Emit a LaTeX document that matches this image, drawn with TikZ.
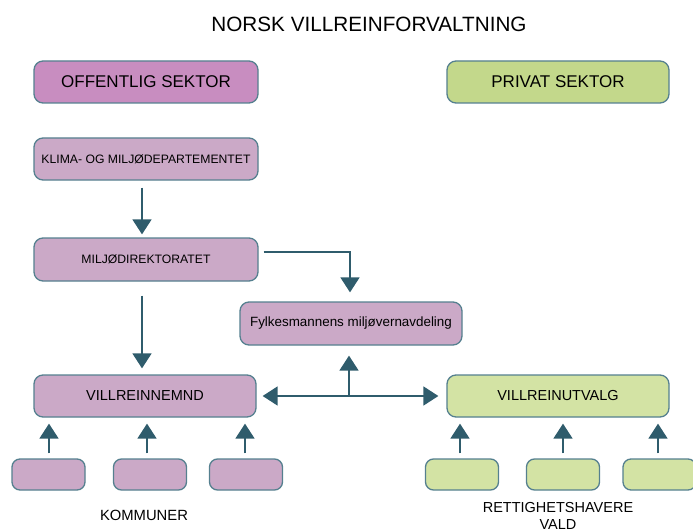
\documentclass[tikz,border=0pt]{standalone}
\usepackage{fontspec}
\setmainfont{Liberation Sans}
\usetikzlibrary{arrows.meta}
\definecolor{edgecol}{HTML}{55808F}
\definecolor{arrcol}{HTML}{2F5C6C}
\definecolor{pinkfill}{HTML}{C88DC0}
\definecolor{lilac}{HTML}{CBA9C7}
\definecolor{greenfill}{HTML}{C3D88B}
\definecolor{palegreen}{HTML}{D3E3A4}
\tikzset{
  box/.style={draw=edgecol, line width=1.3pt, rounded corners=9pt, minimum width=222pt, minimum height=42pt, inner sep=0pt, align=center},
  smallbox/.style={draw=edgecol, line width=1.3pt, rounded corners=8pt, minimum width=73pt, minimum height=31pt, inner sep=0pt},
  arr/.style={draw=arrcol, line width=1.8pt, -{Triangle[length=15pt,width=19pt]}},
  darr/.style={draw=arrcol, line width=1.8pt, {Triangle[length=15pt,width=19pt]}-{Triangle[length=15pt,width=19pt]}},
  lbl/.style={inner sep=0pt, align=center}
}
\begin{document}
\begin{tikzpicture}[x=1pt,y=-1pt]
\useasboundingbox (0,0) rectangle (693,532);
\node[lbl, font=\fontsize{20.7}{24}\selectfont] (title) at (369,24) {NORSK VILLREINFORVALTNING};
\node[box, fill=pinkfill, minimum width=224pt, font=\fontsize{17}{20}\selectfont] (off) at (146,82) {OFFENTLIG SEKTOR};
\node[box, fill=greenfill, font=\fontsize{17}{20}\selectfont] (priv) at (558,82) {PRIVAT SEKTOR};
\node[box, fill=lilac, minimum width=224pt, font=\fontsize{12.2}{14}\selectfont] (klima) at (146,159) {KLIMA- OG MILJØDEPARTEMENTET};
\node[box, fill=lilac, minimum width=224pt, minimum height=43pt, font=\fontsize{12.2}{14}\selectfont] (mdir) at (146,259.5) {MILJØDIREKTORATET};
\node[box, fill=lilac, minimum height=43pt, font=\fontsize{13.4}{16}\selectfont] (fylke) at (351,323.5) {Fylkesmannens miljøvernavdeling};
\node[box, fill=lilac, font=\fontsize{14.5}{17}\selectfont] (nemnd) at (145,396) {VILLREINNEMND};
\node[box, fill=palegreen, font=\fontsize{14.5}{17}\selectfont] (utvalg) at (558,396) {VILLREINUTVALG};
\node[smallbox, fill=lilac] (k1) at (48.5,474.5) {};
\node[smallbox, fill=lilac] (k2) at (150,474.5) {};
\node[smallbox, fill=lilac] (k3) at (246,474.5) {};
\node[smallbox, fill=palegreen] (g1) at (462,474.5) {};
\node[smallbox, fill=palegreen] (g2) at (563,474.5) {};
\node[smallbox, fill=palegreen] (g3) at (659.5,474.5) {};
\node[lbl, font=\fontsize{14.8}{18}\selectfont] (komm) at (144,515) {KOMMUNER};
\node[lbl, font=\fontsize{14.5}{17}\selectfont] (rett) at (558,516) {RETTIGHETSHAVERE\\VALD};
% arrows
\draw[arr, shorten <=7pt, shorten >=3pt] ([xshift=-4pt]klima.south) -- ([xshift=-4pt]klima.south |- mdir.north);
\draw[arr, shorten <=14pt, shorten >=6pt] ([xshift=-4pt]mdir.south) -- ([xshift=-4pt]mdir.south |- nemnd.north);
\draw[arr, shorten <=5pt, shorten >=9pt] ([yshift=7.5pt]mdir.east) -| ([xshift=-1pt]fylke.north);
\draw[darr, shorten <=6pt, shorten >=8pt] (nemnd.east) -- (utvalg.west);
\coordinate (j) at (349,396);
\draw[arr, shorten >=10pt] (j) -- (j |- fylke.south);
\foreach \b/\xs in {k1/0.5, k2/-3, k3/-1, g1/-2, g2/0, g3/-1.5}{
  \draw[arr, shorten <=5pt, shorten >=6pt] ([xshift=\xs pt]\b.north) -- ([xshift=\xs pt]\b.north |- nemnd.south);
}
\end{tikzpicture}
\end{document}
